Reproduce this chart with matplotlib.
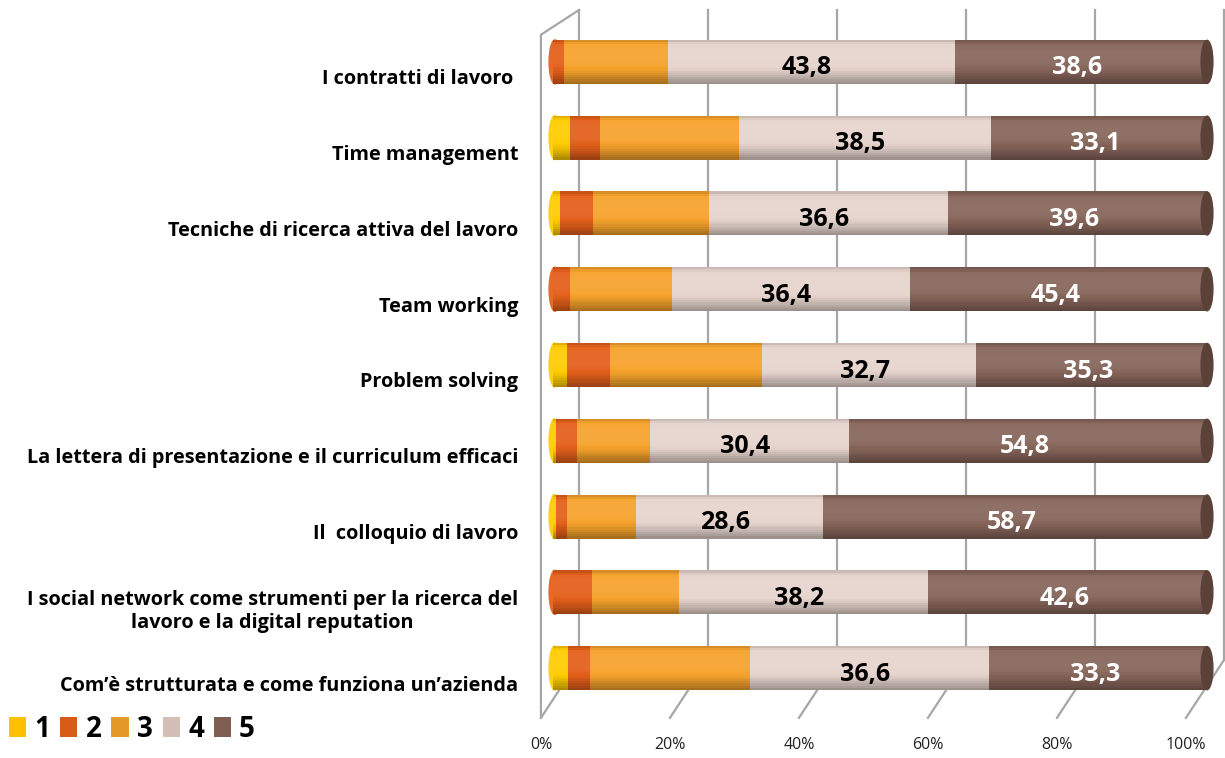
import numpy as np
import matplotlib.pyplot as plt
from matplotlib.patches import Ellipse, Patch
from matplotlib.colors import to_rgb
from matplotlib.transforms import ScaledTranslation

plt.rcParams['font.family'] = ['Open Sans', 'DejaVu Sans']

categories = [
    "I contratti di lavoro ",
    "Time management",
    "Tecniche di ricerca attiva del lavoro",
    "Team working",
    "Problem solving",
    "La lettera di presentazione e il curriculum efficaci",
    "Il  colloquio di lavoro",
    "I social network come strumenti per la ricerca del\nlavoro e la digital reputation",
    "Com\u2019\u00e8 strutturata e come funziona un\u2019azienda",
]
score1 = [0.0, 2.6, 1.1, 0.0, 2.1, 0.5, 0.4, 0.0, 2.3]
score2 = [1.7, 4.6, 5.0, 2.6, 6.6, 3.2, 1.7, 6.0, 3.4]
score3 = [15.9, 21.2, 17.7, 15.6, 23.3, 11.1, 10.6, 13.2, 24.4]
score4 = [43.8, 38.5, 36.6, 36.4, 32.7, 30.4, 28.6, 38.2, 36.6]
score5 = [38.6, 33.1, 39.6, 45.4, 35.3, 54.8, 58.7, 42.6, 33.3]
series_names = ['1', '2', '3', '4', '5']
xticks = [0, 20, 40, 60, 80, 100]

bar_colors = ['#FFCC00', '#E35F1A', '#F5A22B', '#E6D4CD', '#86655A']
legend_colors = ['#FFC000', '#D95B1A', '#E39A29', '#D3BFB6', '#7F5F52']


def shade(color, t):
    # cylinder-like brightness profile, t=0 top, t=1 bottom
    c = np.array(to_rgb(color))
    m = 1.0 + 0.06 * np.cos((t - 0.35) * np.pi * 1.2) - 0.45 * max(t - 0.55, 0) ** 1.5 * 2.2
    m -= 0.18 * max(0.12 - t, 0) / 0.12
    if m >= 1:
        return tuple(c + (1 - c) * (m - 1) * 1.2)
    return tuple(np.clip(c * m, 0, 1))


W, H = 1225, 758
fig = plt.figure(figsize=(W / 100, H / 100), dpi=100)

# back wall / floor frame
bg = fig.add_axes([579 / W, (H - 660) / H, 645 / W, 650 / H])
bg.set_xlim(0, 100)
bg.set_ylim(0, 1)
bg.axis('off')
dx, dy = -5.9, -0.089
gcol = '#A6A6A6'
for v in xticks:
    bg.plot([v, v], [0, 1], color=gcol, lw=1.6, clip_on=False)
    bg.plot([v, v + dx], [0, dy], color=gcol, lw=1.6, clip_on=False)
    bg.text(v + dx, -0.131, f'{v}%', ha='center', va='center', fontsize=11.5,
            color='#222222')
# left wall
bg.plot([dx, dx, 0], [dy, 0.962, 1.0], color=gcol, lw=1.6, clip_on=False)

# bars
ax = fig.add_axes([553 / W, (H - 706) / H, 654 / W, 682 / H])
ax.set_facecolor('none')
ax.set_xlim(0, 100)
ax.set_ylim(8.5, -0.5)
for s in ax.spines.values():
    s.set_visible(False)
ax.set_xticks([])

vals = np.array([score1, score2, score3, score4, score5])
lefts = np.vstack([np.zeros(len(categories)), np.cumsum(vals, axis=0)[:-1]])
ypos = np.arange(len(categories))
h = 0.58
n = 20
for j in range(5):
    for k in range(n):
        t = (k + 0.5) / n
        ax.barh(ypos - h / 2 + t * h, vals[j], left=lefts[j], height=h / n * 1.05,
                color=shade(bar_colors[j], t), linewidth=0, zorder=2)

# rounded left ends and right caps
for i in ypos:
    first = next(j for j in range(5) if vals[j][i] > 0)
    ax.add_patch(Ellipse((0.3, i), 1.8, h, color=shade(bar_colors[first], 0.45),
                         zorder=1, clip_on=False))
    ax.add_patch(Ellipse((100, i), 1.8, h * 0.98, color='#5B4137', zorder=3,
                         clip_on=False))

# data labels
for i in ypos:
    ax.text(lefts[3][i] + score4[i] / 2 - 0.7, i + 0.08, f'{score4[i]:.1f}'.replace('.', ','),
            ha='center', va='center', fontsize=18, fontweight='bold', color='black', zorder=4)
    ax.text(lefts[4][i] + score5[i] / 2 - 0.5, i + 0.08, f'{score5[i]:.1f}'.replace('.', ','),
            ha='center', va='center', fontsize=18, fontweight='bold', color='white', zorder=4)

# category labels
ax.set_yticks(ypos)
ax.set_yticklabels(categories, fontsize=14.3, fontweight='bold', color='black')
ax.tick_params(axis='y', length=0, pad=25)
shift = ScaledTranslation(0, -0.15, fig.dpi_scale_trans)
for lab in ax.get_yticklabels():
    lab.set_transform(lab.get_transform() + shift)
    lab.set_multialignment('center')

handles = [Patch(facecolor=c, edgecolor='none') for c in legend_colors]
fig.legend(handles, series_names, loc='lower left', bbox_to_anchor=(-0.013, -0.014), ncol=5,
           frameon=False, prop={'weight': 'bold', 'size': 20}, handlelength=0.62,
           handleheight=0.7, columnspacing=0.35, handletextpad=0.3)

fig.savefig('out.png', dpi=100)
